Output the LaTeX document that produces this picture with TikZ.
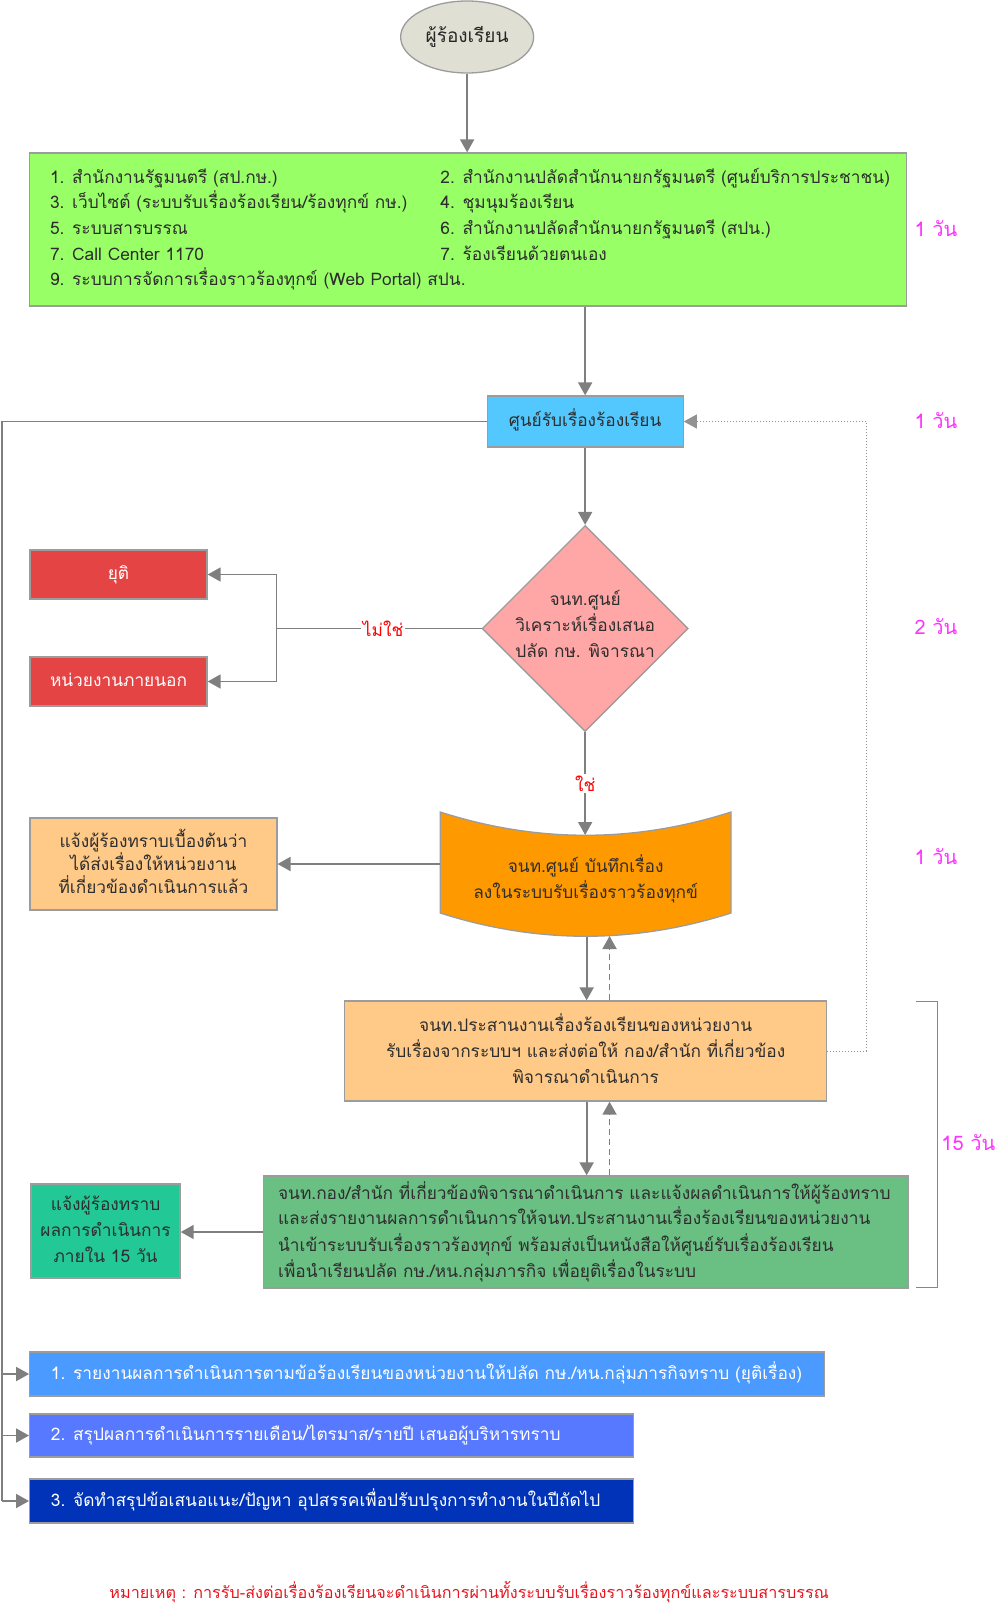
\documentclass[tikz,border=0pt]{standalone}
\usepackage{fontspec}
\setmainfont[Script=Thai]{Loma}
\usetikzlibrary{arrows.meta,shapes.geometric}
\definecolor{gc}{HTML}{7F7F7F}
\definecolor{bc}{HTML}{9C9C9C}
\definecolor{tc}{HTML}{2E2E2E}
\definecolor{ellf}{HTML}{DFDFD3}
\definecolor{limef}{HTML}{99FF66}
\definecolor{bluef}{HTML}{52C8FF}
\definecolor{pinkf}{HTML}{FFA6A6}
\definecolor{redf}{HTML}{E54444}
\definecolor{orf}{HTML}{FF9900}
\definecolor{lorf}{HTML}{FFC987}
\definecolor{grf}{HTML}{6ABF83}
\definecolor{tealf}{HTML}{22C996}
\definecolor{bAf}{HTML}{4A9AFF}
\definecolor{bBf}{HTML}{5779FF}
\definecolor{bCf}{HTML}{0033B8}
\definecolor{mag}{HTML}{FF33FF}
\definecolor{lblred}{HTML}{FF0000}
\definecolor{notered}{HTML}{E8141E}
\begin{document}
\begin{tikzpicture}[x=0.996pt,y=-1pt,
  conn/.style={draw=gc,line width=1.8pt},
  arr/.style={conn,-{Triangle[width=14pt,length=13pt]}},
  box/.style={draw=bc,line width=1.3pt,inner sep=0pt},
  sbox/.style={box,text height=9pt,text depth=0pt,font=\fontsize{17.3}{20}\selectfont},
  item/.style={anchor=base west,inner sep=0pt,text=tc,font=\fontsize{17.3}{20}\selectfont},
  ln/.style={anchor=base,inner sep=0pt,text=tc,font=\fontsize{17.3}{20}\selectfont},
  days/.style={anchor=west,inner sep=0pt,text=mag,font=\fontsize{20}{24}\selectfont},
  lbl/.style={fill=white,inner sep=2pt,text=lblred,font=\fontsize{17.3}{20}\selectfont},
]
\useasboundingbox (0,0) rectangle (1004,1606);

% requester
\node[ellipse,draw=bc,line width=1.3pt,fill=ellf,minimum width=133pt,minimum height=72pt,inner sep=0pt,text=black!85,font=\fontsize{19}{22}\selectfont] (req) at (469,37) {ผู้ร้องเรียน};

% sources
\node[box,fill=limef,minimum width=877pt,minimum height=153pt] (src) at (470,229.5) {};
\node[item] (s1) at (50,183) {1. สำนักงานรัฐมนตรี (สป.กษ.)};
\node[item] (s2) at (442,183) {2. สำนักงานปลัดสำนักนายกรัฐมนตรี (ศูนย์บริการประชาชน)};
\node[item] (s3) at (50,208) {3. เว็บไซต์ (ระบบรับเรื่องร้องเรียน/ร้องทุกข์ กษ.)};
\node[item] (s4) at (442,208) {4. ชุมนุมร้องเรียน};
\node[item] (s5) at (50,234) {5. ระบบสารบรรณ};
\node[item] (s6) at (442,234) {6. สำนักงานปลัดสำนักนายกรัฐมนตรี (สปน.)};
\node[item] (s7) at (50,260) {7. Call Center 1170};
\node[item] (s8) at (442,260) {7. ร้องเรียนด้วยตนเอง};
\node[item] (s9) at (50,285.5) {9. ระบบการจัดการเรื่องราวร้องทุกข์ (Web Portal) สปน.};
\node[days] (d1) at (918,229) {1 วัน};
\draw[arr] (req.south) -- (req.south |- src.north);

% complaint centre
\node[sbox,fill=bluef,text=tc,minimum width=196pt,minimum height=51pt] (ctr) at (587.5,421.5) {ศูนย์รับเรื่องร้องเรียน};
\draw[arr] (ctr.north |- src.south) -- (ctr.north);
\node[days] (d2) at (918,421) {1 วัน};

% decision
\node[diamond,draw=bc,line width=1.3pt,fill=pinkf,minimum width=206pt,minimum height=206pt,inner sep=0pt] (dec) at (587.5,628.5) {};
\node[ln] (dc1) at (587.5,605) {จนท.ศูนย์};
\node[ln] (dc2) at (587.5,631) {วิเคราะห์เรื่องเสนอ};
\node[ln] (dc3) at (587.5,657) {ปลัด กษ. พิจารณา};
\draw[arr] (ctr.south) -- (dec.north);
\node[days] (d3) at (918,627) {2 วัน};

% no branch
\node[sbox,fill=redf,text=white,minimum width=177pt,minimum height=49pt] (stop) at (119,574.5) {ยุติ};
\node[sbox,fill=redf,text=white,minimum width=177pt,minimum height=49pt] (ext) at (119,681.5) {หน่วยงานภายนอก};
\coordinate (jn) at (277.6,628.5);
\draw[conn] (dec.west) -- node[lbl,pos=0.48] (no) {ไม่ใช่} (jn);
\draw[arr] (jn) |- (stop.east);
\draw[arr] (jn) |- (ext.east);

% record (document shape)
\path[draw=bc,line width=1.3pt,fill=orf] (442,812) .. controls (539,843) and (637,843) .. (734,812) -- (734,913) .. controls (637,944) and (539,944) .. (442,913) -- cycle;
\coordinate (rectop) at (587.5,835);
\node[ln] (r1) at (588,872) {จนท.ศูนย์ บันทึกเรื่อง};
\node[ln] (r2) at (588,898) {ลงในระบบรับเรื่องราวร้องทุกข์};
\draw[arr] (dec.south) -- node[lbl] (yes) {ใช่} (rectop);
\node[days] (d4) at (918,857) {1 วัน};

% info box
\node[box,fill=lorf,minimum width=247pt,minimum height=92pt] (inf) at (154,864) {};
\node[ln] (in1) at (154,847) {แจ้งผู้ร้องทราบเบื้องต้นว่า};
\node[ln] (in2) at (154,870) {ได้ส่งเรื่องให้หน่วยงาน};
\node[ln] (in3) at (154,893) {ที่เกี่ยวข้องดำเนินการแล้ว};
\coordinate (recw) at (442,864);
\draw[arr] (recw) -- (inf.east);

% coordinator box
\node[box,fill=lorf,minimum width=482pt,minimum height=100pt] (crd) at (588,1051) {};
\node[ln] (cr1) at (588,1031) {จนท.ประสานงานเรื่องร้องเรียนของหน่วยงาน};
\node[ln] (cr2) at (588,1057) {รับเรื่องจากระบบฯ และส่งต่อให้ กอง/สำนัก ที่เกี่ยวข้อง};
\node[ln] (cr3) at (588,1083) {พิจารณาดำเนินการ};
\coordinate (rb1) at (589,937);
\coordinate (rb2) at (612,936);
\draw[arr] (rb1) -- (rb1 |- crd.north);
\draw[arr,dashed,dash pattern=on 6pt off 4pt] (rb2 |- crd.north) -- (rb2);

% dotted feedback
\coordinate (fb) at (870,1051);
\draw[draw=gc!85,line width=1pt,dotted,-{Triangle[width=14pt,length=13pt]}] (crd.east) -- (fb) |- (ctr.east);

% action box
\node[box,fill=grf,minimum width=645pt,minimum height=112pt] (act) at (588,1232) {};
\node[item] (a1) at (279,1199) {จนท.กอง/สำนัก ที่เกี่ยวข้องพิจารณาดำเนินการ และแจ้งผลดำเนินการให้ผู้ร้องทราบ};
\node[item] (a2) at (279,1224) {และส่งรายงานผลการดำเนินการให้จนท.ประสานงานเรื่องร้องเรียนของหน่วยงาน};
\node[item] (a3) at (279,1251) {นำเข้าระบบรับเรื่องราวร้องทุกข์ พร้อมส่งเป็นหนังสือให้ศูนย์รับเรื่องร้องเรียน};
\node[item] (a4) at (279,1277) {เพื่อนำเรียนปลัด กษ./หน.กลุ่มภารกิจ เพื่อยุติเรื่องในระบบ};
\draw[arr] (rb1 |- crd.south) -- (rb1 |- act.north);
\draw[arr,dashed,dash pattern=on 6pt off 4pt] (rb2 |- act.north) -- (rb2 |- crd.south);

% teal box
\node[box,fill=tealf,minimum width=149pt,minimum height=94pt] (tl) at (106,1231) {};
\node[ln] (tl1) at (106,1210) {แจ้งผู้ร้องทราบ};
\node[ln] (tl2) at (106,1236) {ผลการดำเนินการ};
\node[ln] (tl3) at (106,1262) {ภายใน 15 วัน};
\draw[arr] (act.west) -- (tl.east |- act.west);

% bracket
\coordinate (bk1) at (920,1001);
\coordinate (bk2) at (941,1287);
\draw[mag,line width=1pt] (bk1) -- (bk1 -| bk2) -- (bk2) -- (bk2 -| bk1);
\node[days] (d5) at (945,1143) {15 วัน};

% report boxes
\node[box,fill=bAf,minimum width=795pt,minimum height=44pt] (b1) at (429,1374) {};
\node[item,text=white] (b1t) at (51,1379) {1. รายงานผลการดำเนินการตามข้อร้องเรียนของหน่วยงานให้ปลัด กษ./หน.กลุ่มภารกิจทราบ (ยุติเรื่อง)};
\node[box,fill=bBf,minimum width=604pt,minimum height=43pt] (b2) at (333,1435.5) {};
\node[item,text=white] (b2t) at (51,1440) {2. สรุปผลการดำเนินการรายเดือน/ไตรมาส/รายปี เสนอผู้บริหารทราบ};
\node[box,fill=bCf,minimum width=604pt,minimum height=44pt] (b3) at (333,1501) {};
\node[item,text=white] (b3t) at (51,1506) {3. จัดทำสรุปข้อเสนอแนะ/ปัญหา อุปสรรคเพื่อปรับปรุงการทำงานในปีถัดไป};
\coordinate (lft) at (2,421.5);
\draw[conn] (ctr.west) -- (lft) -- (lft |- b3.west);
\draw[arr] (lft |- b1.west) -- (b1.west);
\draw[arr] (lft |- b2.west) -- (b2.west);
\draw[arr] (lft |- b3.west) -- (b3.west);

% note
\node[ln,text=notered,font=\fontsize{16.2}{20}\selectfont] (note) at (471,1598) {หมายเหตุ : การรับ-ส่งต่อเรื่องร้องเรียนจะดำเนินการผ่านทั้งระบบรับเรื่องราวร้องทุกข์และระบบสารบรรณ};
\end{tikzpicture}
\end{document}
